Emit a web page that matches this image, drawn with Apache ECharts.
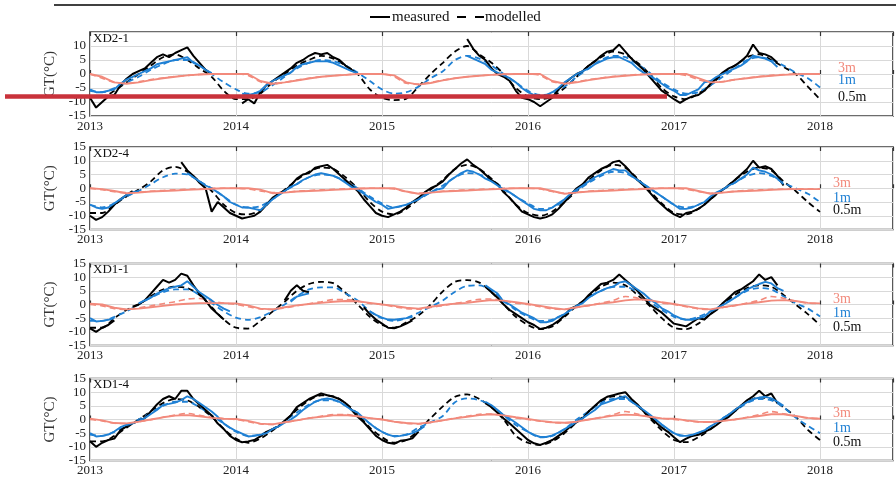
<!DOCTYPE html>
<html>
<head>
<meta charset="utf-8">
<script src="https://cdn.jsdelivr.net/npm/echarts@6/dist/echarts.min.js"></script>
<style>html,body{margin:0;padding:0;background:#fff;}#c{width:896px;height:482px;}</style>
</head>
<body>
<div id="c"></div>
<script>
// ---------- time bases ----------
const YEAR0 = 2013;
const HALF_MONTH = 1 / 24;   // measured 0.5 m / 1 m series sampling
const MONTH = 1 / 12;        // modelled series and 3 m series sampling
const xTicks = [2013, 2014, 2015, 2016, 2017, 2018];
const yTicks = [-15, -10, -5, 0, 5, 10, 15];
const legendLabels = ['measured', 'modelled'];
const N = null;

// ---------- XD2-1 ----------
const p1_meas05 = [-8.5,-12,-10,-8,-7.5,-4,-1.7,0,1,2,4,6,7,6,7.5,8.5,9.5,6.5,4,1.5,0,
  N,N,N,N,
  -10.5,-9,-10.5,-6.5,-4,-2.5,-1,0.5,2,4,5,6.5,7.5,7,7.5,6,5,3,1.5,0,
  N,N,N,N,N,N,N,N,N,N,N,N,N,N,N,N,N,
  12.5,9,6.5,5,2,0,-1,-2.5,-6,-8.5,
  -9,-10,-11.5,-10,-8.5,-5.5,-3.5,-1.5,0,1,
  3,4.5,6.5,8,8.5,10.5,8,5.5,3.5,1.5,
  -1,-3.5,-6,-7.5,-9,-10.3,-9,-8,-7.5,-6,
  -3.5,-1.5,0.5,2,3,4.5,6.5,10.5,7.5,7,
  6,4];
const p1_meas1 = [-5.5,-6.5,-6.5,-6,-5.5,-3.5,-2,-1,0,1,2,3.5,4,4.5,5,5.5,6,4,3,1.5,0.3,
  N,N,N,N,
  -7,-7.5,-7,-6,-4,-2.5,-1.5,-0.5,0.5,2.5,3.5,4,4.5,4.5,4.5,4,3,2,1,0.3,
  N,N,N,N,N,N,N,N,N,N,N,N,N,N,N,N,N,
  6.5,5.5,4.5,3.5,1.5,0.5,-0.5,-1.5,-3,-5,
  -6.5,-7.5,-8,-7.5,-6.5,-5,-3,-1.5,0,1,
  2,3.5,4.5,5.5,6,6,5,4,2,0.5,
  -0.5,-2,-3.5,-5,-6,-7.5,-7.5,-6.5,-5.5,-3,
  -2.5,-1,0,1,2,3,4.5,6.5,6,5.5,
  4.5,2.5];
const p1_meas3 = [0,-1,-3,-3.5,-3,-2.2,-1.5,-1,-0.5,-0.2,0,0,
  0,0,-2.5,-3.5,-3,-2.3,-1.6,-1,-0.6,-0.3,0,0,
  0,-0.5,-3,-3.8,-3.2,-2.3,-1.5,-1,-0.6,-0.3,-0.1,0,
  0,0,-2.5,-3.5,-3,-2.2,-1.5,-1,-0.6,-0.3,-0.1,0,
  0,0,-1.5,-3,-2.8,-2,-1.5,-1,-0.6,-0.3,-0.1,0, 0];
const p1_mod05 = [-8,-8,-6,-3,0,3,6,7,5,2,-1,-6,
  -9,-9,-7,-3,0,3,5,6.5,5.5,3,0,-5.5,
  -8.5,-9.3,-8.8,-4.5,0,4,8,10,7,4,0,-5,
  -8,-9,-8,-5,-1,3,6,8,7,4,0,-5,
  -8,-9,-7,-4,0,3,6,7,5,2.5,0,-4.5, -9];
const p1_mod1 = [-6,-6.5,-5,-3,-1,1.5,3.5,5,5,3,0,-3,
  -5.5,-7,-6.5,-4,-1,2,4,5,4.5,3,0.5,-2.5,
  -5.5,-7,-6.5,-4.5,-1.5,1,5,6.5,5.5,3,0,-3,
  -6,-7.5,-7,-4.5,-1,2,5,6.5,6,3.5,0.5,-3,
  -5.5,-7,-6.5,-4,-1,2,5,6,5,3,0.5,-1.5, -4.8];
const p1_mod3 = [0,-1.5,-3,-3.3,-2.8,-2,-1.4,-0.9,-0.5,-0.2,0,0,
  0,-0.5,-2.8,-3.6,-3,-2.2,-1.5,-1,-0.6,-0.3,0,0,
  0,-1,-3.3,-3.6,-3,-2.2,-1.5,-1,-0.6,-0.3,0,0,
  0,-0.5,-2.8,-3.3,-2.8,-2,-1.4,-0.9,-0.5,-0.2,0,0,
  0,-0.5,-2,-3,-2.7,-2,-1.4,-0.9,-0.5,-0.2,0,0, 0];

// ---------- XD2-4 ----------
const p2_meas05 = [-10,-11.5,-10.5,-8.5,-6,-4,-2.5,-1,
  N,N,N,N,N,N,N,
  9.5,6.5,4.5,2,0,-8.5,-5,-7,-9,-10,
  -11,-10.5,-10,-8.5,-6,-3.5,-2,-1,1,3.5,
  5,5.5,7.5,8,8.5,7,5,3,1,-1,
  -4,-6.5,-9,-10,-10.5,-9.5,-8.5,-7,-5,-3.5,
  -1.5,0,1,2.5,5,7,9,10.5,8.5,7,
  5,3,1.5,-1.5,-3.5,-6,-8.5,-9.5,-10.5,-11,
  -10.5,-9.5,-7.5,-5,-2.5,0,1.5,4,5.5,7,
  8,9.5,10,8,5.5,3,1,-1.5,-4,-6,
  -8,-9.5,-10.5,-9,-8.5,-7.5,-6,-4,-2,-0.5,
  1,3,5,7,10,7.5,8,7,4.5,1];
const p2_meas1 = [-6,-7,-7.5,-7,-5.5,-4,-2.5,-1.5,-1,
  N,N,N,N,N,N,N,
  5.5,4,2.5,1,0,-1.5,-3,-5,-6,
  -7,-7,-7.5,-8,-6,-4,-2.5,-1,0.5,1.5,
  3,4,5,5.5,5,4.5,3.5,2,0.5,-0.5,
  -2,-3.5,-5,-6,-7.5,-7,-6.5,-6,-5,-4,
  -2.5,-1.5,-0.5,0,2.5,4,5.5,6.5,6,5,
  3.5,2.5,1,-0.5,-1.5,-3,-4.5,-6,-7.5,-8,
  -8,-7,-5.5,-4,-2,-0.5,1,2.5,4,5,
  6,7,6.5,6.5,4.5,3,1.5,0,-1.5,-3,
  -4.5,-6,-7.5,-7.5,-7,-6,-5,-3,-1.5,-0.5,
  1,2,3.5,5,7.5,6.5,6,5,3.5,1.5];
const p2_meas3 = [0,-0.3,-1,-1.8,-1.6,-1.2,-1,-0.8,-0.6,-0.4,-0.2,0,
  0,0,-0.5,-1.8,-1.6,-1.2,-1,-0.8,-0.6,-0.4,-0.2,0,
  0,0,-1.2,-2,-1.6,-1.2,-1,-0.8,-0.6,-0.4,-0.2,0,
  0,0,-1,-2,-1.6,-1.2,-1,-0.8,-0.6,-0.4,-0.2,0,
  0,0,-1,-2,-1.6,-1.2,-1,-0.8,-0.6,-0.4,-0.3,-0.3, -0.3];
const p2_mod05 = [-9,-9,-6,-3,-0.5,2.5,6.5,7.8,6,2.5,-1,-6,
  -9,-9.5,-8,-4,-0.5,3,6,7.5,7,4,0,-5,
  -8.5,-9.5,-7.5,-4,-0.5,3,7,8.5,7,3.5,-1,-6,
  -9,-10,-8.5,-5,-1,3,6.5,8.5,7.5,3.5,-1,-5.5,
  -9,-9.5,-7.5,-4,-0.5,3,6,7.5,6.5,2.5,-1,-5, -8.6];
const p2_mod1 = [-6,-7,-5.5,-3,-1,1.5,4,5.3,5,2.5,0,-3,
  -6,-7,-6.5,-4,-1,1.5,4,5,4.5,2.5,0,-3,
  -5.5,-7,-6,-4,-1.5,1,4,5.5,5,3,0,-3,
  -5.5,-7.5,-7,-4.5,-1,2,4.5,6,5.5,3,0,-3,
  -6,-7,-6,-3.5,-0.5,2,4.5,5.5,4.5,2,0,-2, -5];
const p2_mod3 = [0,-0.5,-1.3,-1.6,-1.4,-1.1,-0.8,-0.6,-0.4,-0.2,0,0,
  0,-0.3,-1,-1.6,-1.4,-1.1,-0.8,-0.6,-0.4,-0.2,0,0,
  0,-0.3,-1.3,-1.8,-1.5,-1.1,-0.8,-0.6,-0.4,-0.2,0,0,
  0,-0.3,-1.2,-1.8,-1.5,-1.1,-0.8,-0.6,-0.4,-0.2,0,0,
  0,-0.3,-1.2,-1.8,-1.5,-1.1,-0.8,-0.6,-0.4,-0.3,-0.2,-0.2, -0.2];

// ---------- XD1-1 ----------
const p3_meas05 = [-8.7,-10,-8.5,-7.5,-5.8,
  N,N,
  -0.8,0,1.5,4,6.5,9,8,9,11.3,10.5,7,4,1.5,-1.5,-3.5,-5.5,
  N,N,N,N,N,N,N,N,N,
  1.5,5,7,5,4.5,
  N,N,N,N,N,N,N,N,
  -1,-3.5,-5.5,-7,-8.5,-8.7,-8,-7,-5.8,
  N,N,N,N,N,N,N,N,N,N,N,
  6.5,4.5,2.5,0,-2,-3.5,-5,-6.5,-7.5,-9,
  -8.5,-7.5,-6,-4,-1.5,-0.5,1,3.5,5.5,7.5,
  8,9,11,9,7,5,2.5,0,-1.5,-3,
  -5,-7,-7.5,-8,-6.5,-5,-5.5,-3.5,-2,0.5,
  2.5,4.5,5.5,7,8.5,11,9,10,7];
const p3_meas1 = [-5,-6.2,-6,-5.6,-5,
  N,N,N,
  0.4,1.5,2.5,4,5,6,6.5,7,8.5,6.5,4.5,3,1.5,-0.2,-1.5,-2.5,
  N,N,N,N,N,N,N,N,N,
  1,2.9,3.5,4.1,
  N,N,N,N,N,N,N,N,N,
  -2.5,-3.8,-4.8,-5.5,-5.6,-5.3,-5,-4.5,
  N,N,N,N,N,N,N,N,N,N,N,
  7,5.5,4,1,0,-1.5,-3,-4,-5,-6.5,
  -6.5,-6,-4.5,-3.5,-2,-0.5,0.5,2.5,4,5,
  6,6.5,8,8.5,7,5.5,4,2,0.5,-1.4,
  -2.5,-4,-5,-5.6,-5.6,-5,-4.4,-2.5,-1.5,-0.2,
  1,2.5,4,5.5,6.5,7.5,8.3,7.7,6,5];
const p3_meas3 = [0.3,0,-1.2,-1.8,-1.5,-1,-0.5,0,0.3,0.5,0.5,0.5,
  0.4,-0.3,-1.5,-1.8,-1,-0.3,0.2,0.6,1,1.3,1.2,0.6,
  0,-0.5,-1.2,-1.5,-0.8,-0.2,0.3,0.6,1.2,1.6,1.4,0.8,
  0.2,-0.5,-1.3,-1.8,-1,-0.3,0.3,0.8,1.5,1.9,1.6,0.8,
  0.2,-0.6,-1.4,-1.8,-1,-0.3,0.3,0.8,1.4,1.6,1.3,0.6, 0.4];
const p3_mod05 = [-8.5,-8.5,-5,-2,0,3,5.5,6.5,6,3.5,-1,-5.5,
  -8.5,-8.8,-6,-2.6,1,5,7.5,8.3,7.8,4.3,0,-4.5,
  -7.5,-8.5,-6.5,-4,0,4.8,8.3,8.9,8,4.5,0,-4.5,
  -7.5,-9,-8,-4.5,-0.5,3,6.5,8,7,3.5,-0.5,-5,
  -8.5,-9,-7,-3.5,0,3.5,6,7,6.5,3.5,0,-3.5, -7.5];
const p3_mod1 = [-6,-6,-4.5,-2.5,0,2.5,4.5,5.5,5.5,3.5,0.5,-2.5,
  -4.8,-5.6,-4.6,-2.5,0,3,5.5,6.3,6.3,4,1.5,-2.5,
  -5,-6,-5,-3,-0.8,1.5,4.7,6.8,7,5,1.5,-2,
  -4.5,-6,-5.5,-3.5,-0.5,2.5,5,6.5,6.5,4.5,1,-2,
  -4.5,-5.5,-4.5,-2.5,0,2.5,5,6,5.5,3,0.5,-1.5, -4.4];
const p3_mod3 = [0,-0.5,-1.5,-1.8,-1.2,-0.5,0.3,1,2,2.2,1.2,0.5,
  0,-0.8,-1.6,-1.8,-1.2,-0.5,0.3,1,1.8,1.8,1.2,0.4,
  0,-0.8,-1.5,-1.7,-1.1,-0.4,0.4,1.1,1.9,2,1.3,0.5,
  0,-0.8,-1.6,-1.8,-1.1,-0.4,0.5,1.5,2.9,2.4,1.3,0.5,
  0,-0.8,-1.6,-1.8,-1.1,-0.4,0.5,1.5,2.9,2.3,1.2,0.5, 0.3];

// ---------- XD1-4 ----------
const p4_meas05 = [-8,-10,-8.5,-7.5,-7,-4,-2.5,-1.4,-0.5,0.5,
  3,5.5,7.5,8.5,7.5,10.5,10.5,7.5,5.5,3.5,
  1.5,-1.5,-3.5,-6,-7.5,-8.3,-8,-7.5,-6.2,-4.5,
  -3.5,-2.5,-0.5,1.5,4.5,6,7.5,8.5,9.5,8.9,
  8.3,7.5,6,3.5,1,-1,-3.5,-6,-7.5,-8.5,
  -8.9,-7.8,-7.5,-6.9,-4.4,
  N,N,N,N,N,N,N,N,N,N,
  6,4.5,2.5,0.4,-1.5,-3.5,-5.5,-7.5,-8.7,-9.3,
  -8.5,-7.5,-6,-4.5,-2.5,-1,0.5,3,5,7,
  8.3,8.9,9.5,10,7.5,5.5,3,1,-1,-3,
  -4.5,-6.5,-8.3,-7,-6,-5.6,-4.5,-3.5,-2,-0.3,
  1,3,5,7,8.5,10.5,8.5,9.5,6];
const p4_meas1 = [-5,-6.2,-6,-5.5,-4.4,-2.8,-2,-1.4,-0.5,0.5,
  2,3.5,5.3,5.7,6.2,7.1,8.5,7.5,6,4.5,
  2.9,1,-1.5,-3,-4.2,-5.2,-6.2,-6,-5.6,-5,
  -3.5,-2.5,-1.2,0,1.5,3.5,5,6.5,7.3,7.7,
  7.3,6.5,5,3.5,2.5,0.5,-1.5,-3.2,-4.5,-5.5,
  -6.2,-6,-5.6,-5,-4,-2.5,
  N,N,N,N,N,N,N,N,N,
  6.5,5.2,3.5,1.6,0.3,-1.2,-2.8,-4.5,-5.6,-6.4,
  -6.4,-5.8,-4.8,-3.5,-2.3,-0.8,0.5,2,3.5,5.5,
  6.3,7.1,8,8.5,6.5,5,3.5,1.8,0,-1.8,
  -3.5,-5,-6,-6,-5.6,-4.8,-4,-2.5,-1.2,0.4,
  1.8,3.5,5,6.3,7.5,8,8.3,7.7,6.5,5];
const p4_meas3 = [0.3,-0.3,-1.3,-1.4,-0.8,0,0.8,1.4,1.6,1.2,0.6,0.3,
  0.2,-0.5,-1.5,-1.8,-1,-0.3,0.5,1,1.5,1.6,1.2,0.5,
  0,-0.8,-1.3,-1.5,-1,-0.3,0.4,1,1.6,1.9,1.5,0.8,
  0.2,-0.5,-1,-1.2,-0.8,0,0.7,1.4,1.8,1.6,1,0.4,
  0.3,-0.3,-0.8,-0.9,-0.5,0,0.7,1.3,1.9,1.9,1.3,0.6, 0.3];
const p4_mod05 = [-8,-8,-6,-3,0,3,6,7.5,7,4.5,1,-3.5,
  -7,-8.5,-7,-4,-0.5,3.5,7,8.8,8.5,6,2,-3,
  -6.5,-8.5,-7.5,-4,0.5,4.8,8.3,9.2,7.5,4.5,0,-6,
  -8.5,-9.3,-8,-5,-1,3,6.5,8.5,8,5,0.5,-4,
  -7.5,-8.3,-6.5,-3.5,0,3.5,6.5,8,7.5,4.5,1,-3.8, -7.5];
const p4_mod1 = [-5.5,-6,-4.5,-2.5,0,2.5,5,6.5,6.5,4.5,1.5,-1.5,
  -4.5,-6,-5.5,-3.5,-0.5,2.5,5.5,7,7,5,2,-1.5,
  -4.5,-6,-5.5,-3,-1,1.3,6.3,7.7,7.1,5,1.5,-2,
  -4.5,-6.5,-6,-3.5,0,3,6,7.5,7.5,5,1.5,-2,
  -5,-6,-5,-2.5,0.5,3,6,7.5,7,4.5,0.7,-2.3, -5];
const p4_mod3 = [0,-0.5,-1.4,-1.5,-0.9,-0.1,0.8,1.6,2.2,1.5,0.8,0.3,
  0,-0.8,-1.6,-1.8,-1.1,-0.3,0.5,1.2,1.8,1.8,1.2,0.5,
  0,-0.8,-1.4,-1.6,-1.1,-0.3,0.5,1.2,1.9,2,1.4,0.6,
  0,-0.6,-1.1,-1.3,-0.8,0,0.8,1.8,2.9,2,1,0.4,
  0,-0.4,-0.9,-1,-0.5,0,0.8,1.8,2.9,2.1,1.2,0.5, 0.3];

const panelNames = ['XD2-1', 'XD2-4', 'XD1-1', 'XD1-4'];
const depthNames = ['3m', '1m', '0.5m'];
const panels = [
  {m05:p1_meas05, m1:p1_meas1, m3:p1_meas3, d05:p1_mod05, d1:p1_mod1, d3:p1_mod3},
  {m05:p2_meas05, m1:p2_meas1, m3:p2_meas3, d05:p2_mod05, d1:p2_mod1, d3:p2_mod3},
  {m05:p3_meas05, m1:p3_meas1, m3:p3_meas3, d05:p3_mod05, d1:p3_mod1, d3:p3_mod3},
  {m05:p4_meas05, m1:p4_meas1, m3:p4_meas3, d05:p4_mod05, d1:p4_mod1, d3:p4_mod3}
];

// ---------- layout / style ----------
const FONT = '"Liberation Serif", "Times New Roman", serif';
const C_BLACK = '#000000', C_BLUE = '#1f80d4', C_SALMON = '#f28a7c';
const gridTops = [32, 147, 263.5, 378.5];
const gridHeights = [84, 82.5, 82, 82];
const depthLabelPos = [
  {x:838, y:[68, 80, 97]},
  {x:833, y:[183, 198, 210]},
  {x:833, y:[299, 313, 327]},
  {x:833, y:[413, 428, 442]}
];

function toPairs(arr, step) {
  return arr.map((v, i) => [YEAR0 + i * step, v === null ? '-' : v]);
}

const grids = [], xAxes = [], yAxes = [], series = [], graphics = [];
panels.forEach((p, k) => {
  grids.push({left: 90, right: -9, top: gridTops[k], height: gridHeights[k],
    show: true, borderColor: '#3c3c3c', borderWidth: 1.7, backgroundColor: 'transparent'});
  xAxes.push({type: 'value', gridIndex: k, min: xTicks[0], max: 2018.5, interval: 1,
    axisLine: {show: false},
    axisTick: {show: true, inside: true, length: 4, lineStyle: {color: '#333', width: 1.2}},
    axisLabel: {fontFamily: FONT, fontSize: 13, color: '#222', margin: 4,
      formatter: v => (xTicks.indexOf(v) >= 0 ? String(v) : '')},
    splitLine: {show: true, lineStyle: {color: '#d9d9d9', width: 1}}});
  xAxes.push({type: 'value', gridIndex: k, position: 'top', min: xTicks[0], max: 2018.5, interval: 1,
    axisLine: {show: false}, axisLabel: {show: false}, splitLine: {show: false},
    axisTick: {show: true, inside: true, length: 4, lineStyle: {color: '#333', width: 1.2}}});
  yAxes.push({type: 'value', gridIndex: k, min: yTicks[0], max: yTicks[yTicks.length - 1], interval: 5,
    axisLine: {show: false}, axisTick: {show: false},
    axisLabel: {fontFamily: FONT, fontSize: 13, color: '#222', margin: 4, showMaxLabel: k !== 0},
    splitLine: {show: true, lineStyle: {color: '#d9d9d9', width: 1}},
    name: 'GT(°C)', nameLocation: 'middle', nameGap: 28,
    nameTextStyle: {fontFamily: FONT, fontSize: 15, color: '#333'}});

  const xi = k * 2;
  const mk = (name, arr, step, color, width, dashed, smooth, z) => ({
    name, type: 'line', xAxisIndex: xi, yAxisIndex: k, data: toPairs(arr, step),
    symbol: 'none', showSymbol: false, smooth: smooth, connectNulls: false, z: z,
    lineStyle: {color, width, type: dashed ? [6, 4] : 'solid'}, itemStyle: {color},
    silent: true, animation: false
  });
  series.push(mk('modelled-0.5m-' + k, p.d05, MONTH, C_BLACK, 1.8, true, 0.3, 2));
  series.push(mk('modelled-1m-' + k, p.d1, MONTH, C_BLUE, 1.8, true, 0.3, 2));
  series.push(mk('modelled-3m-' + k, p.d3, MONTH, C_SALMON, 1.6, true, 0.3, 2));
  series.push(mk('measured-0.5m-' + k, p.m05, HALF_MONTH, C_BLACK, 2, false, false, 3));
  series.push(mk('measured-1m-' + k, p.m1, HALF_MONTH, C_BLUE, 1.9, false, false, 3));
  series.push(mk('measured-3m-' + k, p.m3, MONTH, C_SALMON, 1.9, false, false, 3));

  graphics.push({type: 'text', left: 93, top: gridTops[k], z: 20,
    style: {text: panelNames[k], font: '13px ' + FONT, fill: '#111'}});
  const lp = depthLabelPos[k];
  const depthColors = [C_SALMON, C_BLUE, '#111'];
  depthNames.forEach((d, j) => {
    graphics.push({type: 'text', x: lp.x, y: lp.y[j], z: 20,
      style: {text: d, font: '14px ' + FONT, fill: depthColors[j], verticalAlign: 'middle', align: 'left'}});
  });
});

// legend drawn as line glyphs + text
graphics.push({type: 'line', shape: {x1: 370, y1: 17, x2: 390, y2: 17}, z: 20,
  style: {stroke: '#000', lineWidth: 2}});
graphics.push({type: 'text', x: 392, y: 17, z: 20,
  style: {text: legendLabels[0], font: '15px ' + FONT, fill: '#111', verticalAlign: 'middle'}});
graphics.push({type: 'line', shape: {x1: 457, y1: 17, x2: 484, y2: 17}, z: 20,
  style: {stroke: '#000', lineWidth: 2, lineDash: [9, 9]}});
graphics.push({type: 'text', x: 485, y: 17, z: 20,
  style: {text: legendLabels[1], font: '15px ' + FONT, fill: '#111', verticalAlign: 'middle'}});

// top rule and overlay stroke
graphics.push({type: 'line', shape: {x1: 54, y1: 5, x2: 896, y2: 5}, z: 20,
  style: {stroke: '#000', lineWidth: 1.3}});
graphics.push({type: 'rect', shape: {x: 5, y: 94.3, width: 662, height: 4.4}, z: 100,
  style: {fill: '#c9323b'}});

const chart = echarts.init(document.getElementById('c'), null, {renderer: 'canvas'});
chart.setOption({
  animation: false,
  backgroundColor: '#fff',
  grid: grids,
  xAxis: xAxes,
  yAxis: yAxes,
  series: series,
  graphic: graphics
});
</script>
</body>
</html>
